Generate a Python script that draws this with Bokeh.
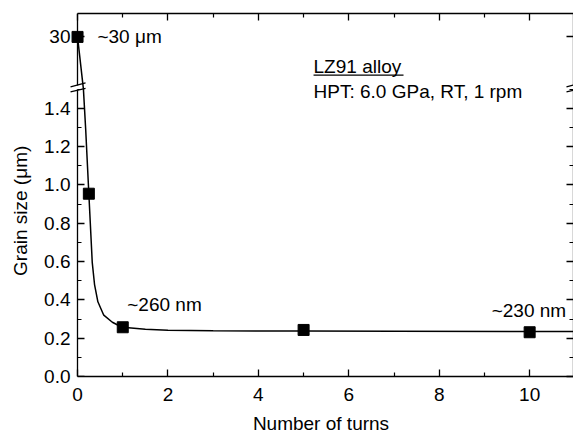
from bokeh.plotting import figure
from bokeh.models import (Range1d, LinearAxis, FixedTicker, Label, Grid, ColumnDataSource,
                          CustomJSTransform, CustomJSTickFormatter)
from bokeh.transform import transform
from bokeh.embed import file_html
from bokeh.resources import INLINE

# ---------------- data ----------------
turns = [0, 0.25, 1, 5, 10]
grain_um = [30, 0.954, 0.257, 0.243, 0.231]

fit_turns = [0, 0.13, 0.18, 0.25, 0.325, 0.376, 0.45, 0.58, 0.77, 0.91, 1.0,
             1.5, 2, 3, 5, 7, 10, 11]
fit_grain = [30, 1.5, 1.29, 0.954, 0.596, 0.48, 0.39, 0.32, 0.283, 0.266, 0.257,
             0.247, 0.242, 0.239, 0.237, 0.236, 0.235, 0.235]

x_major = [0, 2, 4, 6, 8, 10]
x_minor = [1, 3, 5, 7, 9]
y_major = [0.0, 0.2, 0.4, 0.6, 0.8, 1.0, 1.2, 1.4]
y_minor = [0.1, 0.3, 0.5, 0.7, 0.9, 1.1, 1.3, 1.5]
upper_major = [30]

x_label = "Number of turns"
y_label = "Grain size (\u03bcm)"
note_top = "~30 \u03bcm"
note_1 = "~260 nm"
note_10 = "~230 nm"
title_1 = "LZ91 alloy"
title_2 = "HPT: 6.0 GPa, RT, 1 rpm"

# ---------------- broken y axis geometry ----------------
X_MIN, X_MAX = 0.0, 10.97
LOW_TOP = 1.5                 # lower segment: 0 .. 1.5 um
GAP = 0.0208                  # blank gap between the two segments
UP_LO, UP_HI = 12.5, 38.5     # upper segment range (um)
UP_K = 0.014373               # display units per um in the upper segment
UP_BASE = LOW_TOP + GAP
Y_TOP = UP_BASE + (UP_HI - UP_LO) * UP_K
LIM = 1.6


def to_display(v):
    return UP_BASE + (v - UP_LO) * UP_K


brk = CustomJSTransform(
    args=dict(lim=LIM, base=UP_BASE, lo=UP_LO, k=UP_K),
    func="return x > lim ? base + (x - lo) * k : x",
    v_func="return Array.from(xs, (x) => x > lim ? base + (x - lo) * k : x)",
)

FONT = "Liberation Sans"
FS = "19px"
BLANK = CustomJSTickFormatter(code="return ''")

p = figure(width=573, height=436, x_range=Range1d(-0.2, X_MAX), y_range=Range1d(0, Y_TOP),
           output_backend="svg", toolbar_location=None,
           x_axis_location=None, y_axis_location=None,
           min_border_left=68, min_border_right=0, min_border_top=13, min_border_bottom=58)
p.outline_line_color = None
for r in list(p.center):
    if isinstance(r, Grid):
        r.visible = False


def style(ax, labels=True, line=True, ticks=True):
    ax.axis_line_width = 1.3
    ax.axis_line_color = "black" if line else None
    ax.major_tick_in = 7 if ticks else 0
    ax.major_tick_out = 0
    ax.minor_tick_in = 4 if ticks else 0
    ax.minor_tick_out = 0
    ax.major_tick_line_width = 1.3
    ax.minor_tick_line_width = 1.2
    ax.major_tick_line_color = "black" if ticks else None
    ax.minor_tick_line_color = "black" if ticks else None
    ax.major_label_text_font = FONT
    ax.major_label_text_color = "black"
    if labels:
        ax.major_label_text_font_size = FS
    else:
        ax.formatter = BLANK
        ax.major_label_text_font_size = "0px"
        ax.major_label_standoff = 0
    ax.axis_label_text_font = FONT
    ax.axis_label_text_font_size = FS
    ax.axis_label_text_font_style = "normal"
    ax.axis_label_text_color = "black"


left_ticks = y_major + [to_display(v) for v in upper_major]
tick_fmt = CustomJSTickFormatter(
    args=dict(lim=LIM, base=UP_BASE, lo=UP_LO, k=UP_K),
    code="return tick > lim ? (lo + (tick - base) / k).toFixed(0) : tick.toFixed(1)",
)

# left side: labels + title (panel axis), ticks and bounded lines drawn at x = 0
# (non-breaking spaces move the rotated title down, onto the lower segment)
ax = LinearAxis(ticker=FixedTicker(ticks=left_ticks, minor_ticks=[]), formatter=tick_fmt,
                axis_label=y_label + "\u00a0" * 6, major_label_standoff=-2,
                axis_label_standoff=10)
style(ax, line=False, ticks=False)
p.add_layout(ax, "left")
ax = LinearAxis(ticker=FixedTicker(ticks=left_ticks, minor_ticks=y_minor), fixed_location=0)
style(ax, labels=False, line=False)
p.add_layout(ax, "left")
for b in ((0, LOW_TOP), (UP_BASE, Y_TOP)):
    ax = LinearAxis(ticker=FixedTicker(ticks=[], minor_ticks=[]), fixed_location=0, bounds=b)
    style(ax, labels=False, ticks=False)
    p.add_layout(ax, "left")

# right side
ax = LinearAxis(ticker=FixedTicker(ticks=left_ticks, minor_ticks=y_minor))
style(ax, labels=False, line=False)
p.add_layout(ax, "right")
for b in ((0, LOW_TOP), (UP_BASE, Y_TOP)):
    ax = LinearAxis(ticker=FixedTicker(ticks=[], minor_ticks=[]), bounds=b)
    style(ax, labels=False, ticks=False)
    p.add_layout(ax, "right")

# top and bottom
ax = LinearAxis(ticker=FixedTicker(ticks=x_major, minor_ticks=x_minor), bounds=(X_MIN, X_MAX))
style(ax, labels=False)
p.add_layout(ax, "above")
ax = LinearAxis(ticker=FixedTicker(ticks=x_major, minor_ticks=x_minor), bounds=(X_MIN, X_MAX),
                axis_label=x_label, major_label_standoff=11, axis_label_standoff=9)
style(ax)
p.add_layout(ax, "below")

# data
fit_src = ColumnDataSource(dict(t=fit_turns, g=fit_grain))
pt_src = ColumnDataSource(dict(t=turns, g=grain_um))
p.line(x="t", y=transform("g", brk), source=fit_src, line_color="black", line_width=1.5)
p.scatter(x="t", y=transform("g", brk), source=pt_src, marker="square", size=11, color="black")

# break marks
for xe in (X_MIN, X_MAX):
    p.segment(x0=[xe - 0.155, xe - 0.155], y0=[to_display(11.88), 1.486],
              x1=[xe + 0.177, xe + 0.177], y1=[to_display(13.33), 1.5036],
              line_color="black", line_width=1.3)


# annotations
def note(x, y, text):
    p.add_layout(Label(x=x, y=y, text=text, text_baseline="middle",
                       text_font=FONT, text_font_size=FS, text_color="black"))


note(0.44, to_display(30), note_top)
note(5.22, to_display(19.36), title_1)
p.segment(x0=[5.22], y0=[to_display(16.1)], x1=[7.21], y1=[to_display(16.1)],
          line_color="black", line_width=1.2)
note(5.22, 1.49, title_2)
note(1.1, 0.374, note_1)
note(9.16, 0.343, note_10)

open("out.html", "w").write(file_html(p, INLINE))
